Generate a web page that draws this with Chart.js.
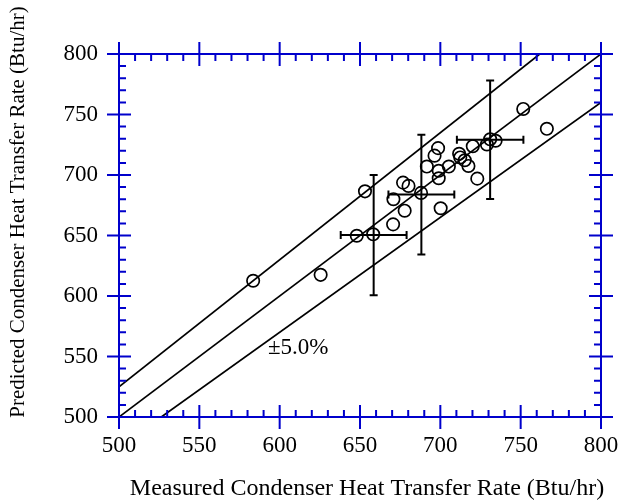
<!DOCTYPE html>
<html>
<head>
<meta charset="utf-8">
<script src="https://cdn.jsdelivr.net/npm/chart.js@4.4.1/dist/chart.umd.min.js"></script>
<style>
  html, body { margin: 0; padding: 0; background: #fff; }
  #wrap { width: 619px; height: 500px; }
</style>
</head>
<body>
<div id="wrap"><canvas id="chart" width="619" height="500"></canvas></div>
<script>
// measured vs predicted condenser heat transfer rate (Btu/hr)
const measured  = [583.5, 625.5, 653.1, 648.0, 658.2, 670.6, 670.8, 677.8, 676.8, 680.2,
                   688.0, 691.6, 698.6, 696.4, 699.0, 699.0, 700.2, 705.3, 711.7, 712.4,
                   715.2, 717.5, 720.2, 723.0, 729.0, 731.0, 734.4, 751.6, 766.3];
const predicted = [612.6, 617.5, 686.5, 649.8, 651.0, 659.2, 680.0, 670.5, 693.7, 691.0,
                   685.2, 707.0, 722.2, 716.0, 703.5, 697.3, 672.5, 707.0, 717.5, 714.5,
                   712.2, 707.5, 723.8, 697.0, 725.2, 729.5, 728.3, 754.6, 738.2];

// error bars (centre + half widths)
const errMeasured  = [658.5, 688.2, 731.0];
const errPredicted = [650.4, 683.8, 729.2];
const errXHalf     = [20.5, 20.5, 20.7];
const errYHalf     = [49.7, 49.4, 49.0];

const tickValues = [500, 550, 600, 650, 700, 750, 800];
const axisMin = 500, axisMax = 800;
const bandPct = 5.0;
const bandLabel = '\u00b15.0%';
const bandLabelPos = { x: 592.7, y: 556.8 };

const xTitle = 'Measured Condenser Heat Transfer Rate (Btu/hr)';
const yTitle = 'Predicted Condenser Heat Transfer Rate (Btu/hr)';

const FONT = '"Liberation Serif", "Times New Roman", serif';
const AXIS_BLUE = '#0000cc';

const points = measured.map((m, i) => ({ x: m, y: predicted[i] }));

// perfect agreement and +/- band lines
const hi = 1 + bandPct / 100, lo = 1 - bandPct / 100;
const lineEqual = [{ x: axisMin, y: axisMin }, { x: axisMax, y: axisMax }];
const lineUpper = [{ x: axisMin, y: axisMin * hi }, { x: axisMax / hi, y: axisMax }];
const lineLower = [{ x: axisMin / lo, y: axisMin }, { x: axisMax, y: axisMax * lo }];

function refLine(data) {
    return {
        type: 'line', data: data, borderColor: '#000', borderWidth: 1.7,
        pointRadius: 0, fill: false, tension: 0
    };
}

// error bars with caps
const errorBarPlugin = {
    id: 'errorBars',
    afterDatasetsDraw(chart) {
        const { ctx, scales: { x, y } } = chart;
        const cap = 4;
        ctx.save();
        ctx.strokeStyle = '#000';
        ctx.lineWidth = 2;
        errMeasured.forEach((m, i) => {
            const cx = x.getPixelForValue(m);
            const cy = y.getPixelForValue(errPredicted[i]);
            const x0 = x.getPixelForValue(m - errXHalf[i]);
            const x1 = x.getPixelForValue(m + errXHalf[i]);
            const y0 = y.getPixelForValue(errPredicted[i] - errYHalf[i]);
            const y1 = y.getPixelForValue(errPredicted[i] + errYHalf[i]);
            ctx.beginPath();
            ctx.moveTo(x0, cy); ctx.lineTo(x1, cy);
            ctx.moveTo(x0, cy - cap); ctx.lineTo(x0, cy + cap);
            ctx.moveTo(x1, cy - cap); ctx.lineTo(x1, cy + cap);
            ctx.moveTo(cx, y0); ctx.lineTo(cx, y1);
            ctx.moveTo(cx - cap, y0); ctx.lineTo(cx + cap, y0);
            ctx.moveTo(cx - cap, y1); ctx.lineTo(cx + cap, y1);
            ctx.stroke();
        });
        ctx.restore();
    }
};

// blue box with ticks on all four sides, titles and band label
const framePlugin = {
    id: 'frame',
    afterDraw(chart) {
        const { ctx, chartArea: a, scales: { x, y } } = chart;
        const major = 12, minor = 7;
        ctx.save();
        ctx.strokeStyle = AXIS_BLUE;
        ctx.lineWidth = 2;
        ctx.strokeRect(a.left, a.top, a.right - a.left, a.bottom - a.top);
        ctx.beginPath();
        for (let v = axisMin; v <= axisMax; v += 10) {
            const isMajor = (v - axisMin) % 50 === 0;
            const px = x.getPixelForValue(v);
            const py = y.getPixelForValue(v);
            if (isMajor) {
                ctx.moveTo(px, a.bottom + major); ctx.lineTo(px, a.bottom - major);
                ctx.moveTo(px, a.top - major); ctx.lineTo(px, a.top + major);
                ctx.moveTo(a.left - major, py); ctx.lineTo(a.left + major, py);
                ctx.moveTo(a.right - major, py); ctx.lineTo(a.right + major, py);
            } else {
                ctx.moveTo(px, a.bottom); ctx.lineTo(px, a.bottom - minor);
                ctx.moveTo(px, a.top); ctx.lineTo(px, a.top + minor);
                ctx.moveTo(a.left, py); ctx.lineTo(a.left + minor, py);
                ctx.moveTo(a.right, py); ctx.lineTo(a.right - minor, py);
            }
        }
        ctx.stroke();

        ctx.fillStyle = '#000';
        ctx.font = '23px ' + FONT;
        ctx.textAlign = 'left';
        ctx.textBaseline = 'middle';
        ctx.fillText(bandLabel, x.getPixelForValue(bandLabelPos.x), y.getPixelForValue(bandLabelPos.y));

        ctx.textAlign = 'center';
        ctx.font = '24px ' + FONT;
        ctx.fillText(xTitle, 367, 489);
        ctx.font = '21px ' + FONT;
        ctx.translate(18, 212);
        ctx.rotate(-Math.PI / 2);
        ctx.fillText(yTitle, 0, 0);
        ctx.restore();
    }
};

const ctx = document.getElementById('chart').getContext('2d');
new Chart(ctx, {
    type: 'scatter',
    data: {
        datasets: [
            {
                data: points,
                pointStyle: 'circle',
                pointRadius: 6.2,
                pointHoverRadius: 6.2,
                borderColor: '#000',
                borderWidth: 1.7,
                backgroundColor: 'rgba(0,0,0,0)'
            },
            refLine(lineEqual),
            refLine(lineUpper),
            refLine(lineLower)
        ]
    },
    options: {
        responsive: false,
        animation: false,
        devicePixelRatio: 1,
        layout: { padding: { top: 54, right: 18, left: 0, bottom: 0 } },
        plugins: { legend: { display: false }, tooltip: { enabled: false } },
        scales: {
            x: {
                type: 'linear', min: axisMin, max: axisMax,
                afterFit: (s) => { s.height = 83; s.paddingLeft = 0; s.paddingRight = 0; },
                afterBuildTicks: (s) => { s.ticks = tickValues.map(v => ({ value: v })); },
                grid: { display: false, drawTicks: false },
                border: { display: false },
                ticks: { padding: 15, color: '#000', font: { family: FONT, size: 23 } }
            },
            y: {
                type: 'linear', min: axisMin, max: axisMax,
                afterFit: (s) => { s.width = 119; s.paddingTop = 0; s.paddingBottom = 0; },
                afterBuildTicks: (s) => { s.ticks = tickValues.map(v => ({ value: v })); },
                grid: { display: false, drawTicks: false },
                border: { display: false },
                ticks: { padding: 21, color: '#000', font: { family: FONT, size: 23 } }
            }
        }
    },
    plugins: [errorBarPlugin, framePlugin]
});
</script>
</body>
</html>
